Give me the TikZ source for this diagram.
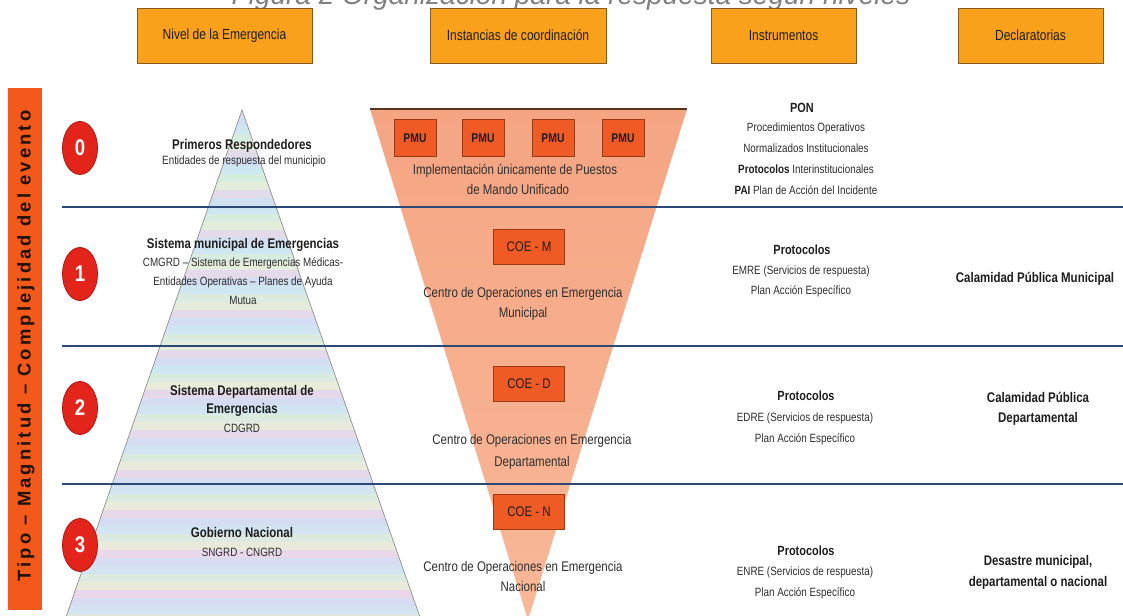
\documentclass[tikz,border=0pt]{standalone}
\usepackage{fontspec}
\setmainfont{Liberation Sans}
\newfontfamily\nar[FakeStretch=0.82]{Liberation Sans}
\newfontfamily\barf[LetterSpace=17]{Liberation Sans}
\usetikzlibrary{shapes.geometric}
\definecolor{hdr}{HTML}{F9A11B}
\definecolor{hdrline}{HTML}{8A5A1E}
\definecolor{barc}{HTML}{F2591B}
\definecolor{circ}{HTML}{E3241B}
\definecolor{circline}{HTML}{B0160F}
\definecolor{salmontop}{HTML}{F5A583}
\definecolor{salmonbot}{HTML}{F9B898}
\definecolor{boxr}{HTML}{F05A24}
\definecolor{boxline}{HTML}{9A3A14}
\definecolor{lvl}{HTML}{2C4877}
\definecolor{txt}{HTML}{1E1E1E}
\definecolor{subt}{HTML}{2E2E2E}
\definecolor{stripe0}{HTML}{F1D6E6}
\definecolor{stripe1}{HTML}{D8DCF2}
\definecolor{stripe2}{HTML}{D3E8F1}
\definecolor{stripe3}{HTML}{E1F0D8}
\definecolor{stripe4}{HTML}{F3F0D2}
\tikzset{
  hdrbox/.style={draw=hdrline, fill=hdr, line width=0.7pt, inner sep=0pt,
    font=\nar\fontsize{11}{12}\selectfont, text=txt},
  redbox/.style={draw=boxline, fill=boxr, line width=0.6pt, inner sep=0pt,
    font=\nar\fontsize{10.5}{12}\selectfont, text=txt},
  pmubox/.style={redbox, minimum width=31.5pt, minimum height=27.75pt,
    font=\nar\bfseries\fontsize{9.5}{11}\selectfont},
  coebox/.style={redbox, minimum width=53.25pt, minimum height=26.25pt},
  numc/.style={ellipse, fill=circ, draw=circline, line width=0.6pt,
    minimum width=26.25pt, minimum height=39.75pt, inner sep=0pt,
    text=white, font=\nar\bfseries\fontsize{17}{18}\selectfont},
  ttl/.style={anchor=base, inner sep=0pt, text=txt,
    font=\nar\bfseries\fontsize{10.5}{12}\selectfont},
  sub/.style={anchor=base, inner sep=0pt, text=subt,
    font=\nar\fontsize{9}{11}\selectfont},
  midt/.style={anchor=base, inner sep=0pt, text=subt,
    font=\nar\fontsize{10.5}{12}\selectfont},
  lvlline/.style={draw=lvl, line width=1.3pt},
}
\begin{document}
\begin{tikzpicture}[x=0.75pt,y=-0.75pt]
\useasboundingbox (0,0) rectangle (1123,616);
\fill[white] (0,0) rectangle (1123,616);

% title (cut at the top, as in the reference)
\node[anchor=base, inner sep=0pt, text=black!50, font=\itshape\fontsize{21}{24}\selectfont] (title) at (571,5) {Figura 2 Organización para la respuesta según niveles};

% header boxes
\node[hdrbox, minimum width=131.25pt, minimum height=41.25pt] (h1) at (224.5,35.5) {Nivel de la Emergencia};
\node[hdrbox, minimum width=132pt, minimum height=41.25pt] (h2) at (518,35.5) {Instancias de coordinación};
\node[hdrbox, minimum width=108.75pt, minimum height=41.25pt] (h3) at (783.5,35.5) {Instrumentos};
\node[hdrbox, minimum width=108.75pt, minimum height=41.25pt] (h4) at (1030.5,35.5) {Declaratorias};

% left bar
\fill[barc] (8,88) rectangle (42,610);
\node[rotate=90, inner sep=0pt, text=black!85!brown, font=\barf\bfseries\fontsize{13.8}{15}\selectfont] (bar) at (26,346) {Tipo – Magnitud – Complejidad del evento};

% left pyramid
\begin{scope}
  \clip (242,110) -- (65,620) -- (421,620) -- cycle;
  \shade[top color=stripe2!90!cyan, bottom color=stripe1] (60,110) rectangle (430,620);
  \foreach \i in {0,...,63} {
    \pgfmathtruncatemacro\k{mod(\i,5)}
    \fill[fill=stripe\k, opacity=0.7] (60,{110+8*\i}) rectangle (430,{118+8*\i});
  }
\end{scope}
\draw[black!45, line width=0.5pt] (65,620) -- (242,110) -- (421,620);

% inverted pyramid
\shade[top color=salmontop, bottom color=salmonbot] (370,109) -- (687,109) -- (528,620) -- cycle;
\draw[black!55!brown, line width=0.9pt] (370,109) -- (687,109);

% level lines
\coordinate (l1a) at (62,207); \coordinate (l1b) at (1123,207);
\coordinate (l2a) at (62,346); \coordinate (l2b) at (1123,346);
\coordinate (l3a) at (62,484); \coordinate (l3b) at (1123,484);
\draw[lvlline] (l1a) -- (l1b);
\draw[lvlline] (l2a) -- (l2b);
\draw[lvlline] (l3a) -- (l3b);

% level circles
\node[numc] (n0) at (80,148) {0};
\node[numc] (n1) at (80,274) {1};
\node[numc] (n2) at (80,408) {2};
\node[numc] (n3) at (80,545) {3};

% left column texts
\node[ttl] (a0) at (242,150) {Primeros Respondedores};
\node[sub] (a0s) at (244,165) {Entidades de respuesta del municipio};
\node[ttl] (a1) at (243,249) {Sistema municipal de Emergencias};
\node[sub] (a1s1) at (243,267) {CMGRD – Sistema de Emergencias Médicas-};
\node[sub] (a1s2) at (243,286) {Entidades Operativas – Planes de Ayuda};
\node[sub] (a1s3) at (243,305) {Mutua};
\node[ttl] (a2a) at (242,395) {Sistema Departamental de};
\node[ttl] (a2b) at (242,413) {Emergencias};
\node[sub] (a2s) at (242,432) {CDGRD};
\node[ttl] (a3) at (242,537) {Gobierno Nacional};
\node[sub] (a3s) at (242,556) {SNGRD - CNGRD};

% middle column
\node[pmubox] (p1) at (415,138) {PMU};
\node[pmubox] (p2) at (483,138) {PMU};
\node[pmubox] (p3) at (553,138) {PMU};
\node[pmubox] (p4) at (623,138) {PMU};
\node[midt] (m0a) at (515,175) {Implementación únicamente de Puestos};
\node[midt] (m0b) at (518,195) {de Mando Unificado};
\node[coebox] (cm) at (529,247) {COE - M};
\node[midt] (m1a) at (523,297) {Centro de Operaciones en Emergencia};
\node[midt] (m1b) at (523,317) {Municipal};
\node[coebox] (cd) at (529,384) {COE - D};
\node[midt] (m2a) at (532,444) {Centro de Operaciones en Emergencia};
\node[midt] (m2b) at (532,466) {Departamental};
\node[coebox] (cn) at (529,512) {COE - N};
\node[midt] (m3a) at (523,571) {Centro de Operaciones en Emergencia};
\node[midt] (m3b) at (523,591) {Nacional};

% instruments
\node[ttl, font=\nar\bfseries\fontsize{10}{12}\selectfont] (i0) at (802,113) {PON};
\node[sub] (i0a) at (806,132) {Procedimientos Operativos};
\node[sub] (i0b) at (806,153) {Normalizados Institucionales};
\node[sub] (i0c) at (806,174) {\textbf{\color{txt}Protocolos} Interinstitucionales};
\node[sub] (i0d) at (806,195) {\textbf{\color{txt}PAI} Plan de Acción del Incidente};
\node[ttl, font=\nar\bfseries\fontsize{10}{12}\selectfont] (i1) at (802,255) {Protocolos};
\node[sub] (i1a) at (801,275) {EMRE (Servicios de respuesta)};
\node[sub] (i1b) at (801,295) {Plan Acción Específico};
\node[ttl, font=\nar\bfseries\fontsize{10}{12}\selectfont] (i2) at (806,400) {Protocolos};
\node[sub] (i2a) at (805,421) {EDRE (Servicios de respuesta)};
\node[sub] (i2b) at (805,442) {Plan Acción Específico};
\node[ttl, font=\nar\bfseries\fontsize{10}{12}\selectfont] (i3) at (806,555) {Protocolos};
\node[sub] (i3a) at (805,575) {ENRE (Servicios de respuesta)};
\node[sub] (i3b) at (805,596) {Plan Acción Específico};

% declarations
\node[ttl] (d1) at (1035,282) {Calamidad Pública Municipal};
\node[ttl] (d2a) at (1038,402) {Calamidad Pública};
\node[ttl] (d2b) at (1038,422) {Departamental};
\node[ttl] (d3a) at (1038,565) {Desastre municipal,};
\node[ttl] (d3b) at (1038,586) {departamental o nacional};
\end{tikzpicture}
\end{document}
